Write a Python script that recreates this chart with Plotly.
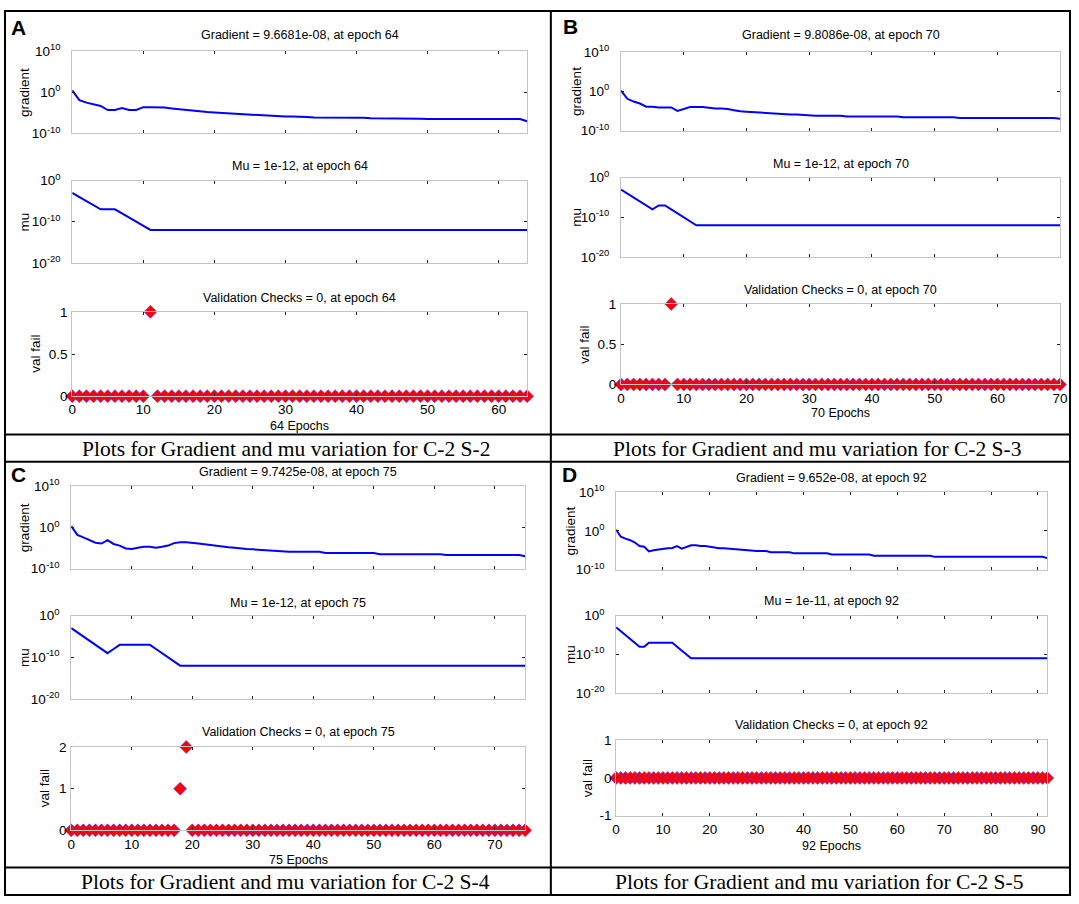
import plotly.graph_objects as go

W, H = 1079, 904

# ---- values; gradient and mu stored as log10 exponents ----

# A: C-2 S-2, 64 epochs
grad_a = [0.5, -1.9, -2.5, -2.9, -3.3, -4.3, -4.3, -3.8, -4.3, -4.3,
          -3.6, -3.6, -3.6, -3.7, -3.9, -4.1, -4.3, -4.4, -4.6, -4.8,
          -4.9, -5.0, -5.1, -5.3, -5.4, -5.5, -5.6, -5.6, -5.7, -5.8,
          -5.9, -5.9, -5.9, -6.0, -6.1, -6.1, -6.1, -6.1, -6.1, -6.1,
          -6.2, -6.2, -6.3, -6.3, -6.3, -6.3, -6.3, -6.3, -6.3, -6.4,
          -6.5, -6.5, -6.5, -6.5, -6.5, -6.5, -6.5, -6.5, -6.5, -6.5,
          -6.5, -6.5, -6.5, -6.5, -7.01]
mu_a = [-3, -4, -5, -6, -7, -7, -7, -8, -9, -10, -11] + [-12] * 54
val_a = [0] * 11 + [1] + [0] * 53

# B: C-2 S-3, 70 epochs
grad_b = [0.2, -1.9, -2.6, -3.1, -3.9, -3.9, -4.1, -4.1, -4.1, -5.0,
          -4.5, -4.0, -4.0, -4.0, -4.2, -4.4, -4.4, -4.5, -4.8, -5.1,
          -5.2, -5.3, -5.5, -5.6, -5.7, -5.8, -5.8, -5.9, -5.9, -6.0,
          -6.2, -6.2, -6.2, -6.2, -6.2, -6.2, -6.4, -6.4, -6.4, -6.4,
          -6.4, -6.4, -6.4, -6.4, -6.4, -6.6, -6.6, -6.6, -6.6, -6.6,
          -6.6, -6.6, -6.6, -6.6, -6.8, -6.8, -6.8, -6.8, -6.8, -6.8,
          -6.8, -6.8, -6.8, -6.8, -6.8, -6.8, -6.8, -6.8, -6.8, -6.8,
          -7.01]
mu_b = [-3, -4, -5, -6, -7, -8, -7, -7, -8, -9, -10, -11] + [-12] * 59
val_b = [0] * 8 + [1] + [0] * 62

# C: C-2 S-4, 75 epochs
grad_c = [0.35, -1.8, -2.4, -3.1, -3.7, -3.9, -3.1, -4.0, -4.4, -5.1,
          -5.2, -4.9, -4.7, -4.7, -4.9, -4.7, -4.4, -3.8, -3.6, -3.6,
          -3.7, -3.9, -4.1, -4.3, -4.5, -4.7, -4.8, -4.9, -5.1, -5.2,
          -5.3, -5.4, -5.5, -5.6, -5.8, -5.8, -5.9, -5.9, -5.9, -5.9,
          -5.9, -5.9, -6.2, -6.2, -6.2, -6.2, -6.2, -6.2, -6.2, -6.2,
          -6.2, -6.5, -6.5, -6.5, -6.5, -6.5, -6.5, -6.5, -6.5, -6.5,
          -6.5, -6.5, -6.7, -6.7, -6.7, -6.7, -6.7, -6.7, -6.7, -6.7,
          -6.7, -6.7, -6.7, -6.7, -6.7, -7.01]
mu_c = [-3, -4, -5, -6, -7, -8, -9, -8, -7, -7, -7, -7, -7, -7,
        -8, -9, -10, -11] + [-12] * 58
val_c = [0] * 18 + [1, 2] + [0] * 56

# D: C-2 S-5, 92 epochs
grad_d = [0.3, -1.5, -2.0, -2.4, -3.0, -3.9, -4.1, -5.3, -5.0, -4.8,
          -4.6, -4.5, -4.4, -3.9, -4.6, -4.1, -3.7, -3.7, -3.9, -3.9,
          -4.1, -4.3, -4.5, -4.5, -4.6, -4.7, -4.9, -5.0, -5.0, -5.2,
          -5.2, -5.2, -5.2, -5.5, -5.5, -5.5, -5.5, -5.5, -5.8, -5.8,
          -5.8, -5.8, -5.8, -5.8, -5.8, -5.8, -6.1, -6.1, -6.1, -6.1,
          -6.1, -6.1, -6.1, -6.1, -6.1, -6.4, -6.4, -6.4, -6.4, -6.4,
          -6.4, -6.4, -6.4, -6.4, -6.4, -6.4, -6.4, -6.4, -6.7, -6.7,
          -6.7, -6.7, -6.7, -6.7, -6.7, -6.7, -6.7, -6.7, -6.7, -6.7,
          -6.7, -6.7, -6.7, -6.7, -6.7, -6.7, -6.7, -6.7, -6.7, -6.7,
          -6.7, -6.7, -7.02]
mu_d = [-3, -4, -5, -6, -7, -8, -8, -7, -7, -7, -7, -7, -7,
        -8, -9, -10] + [-11] * 77
val_d = [0] * 93

panels = [
    dict(letter="A", grad=grad_a, mu=mu_a, val=val_a,
         gtitle="Gradient = 9.6681e-08, at epoch 64", mtitle="Mu = 1e-12, at epoch 64",
         vtitle="Validation Checks = 0, at epoch 64", xtitle="64 Epochs",
         caption="Plots for Gradient and mu variation for C-2 S-2",
         xpix=(69, 529), rows=[(42, 126), (174, 258), (308, 394)], tpix=(25, 159, 294),
         xtpix=424, ylx=(21, 21, 31), lpix=(15, 18), cpix=(285, 448),
         vrange=[0, 1], vticks=[0, 0.5, 1], vtext=["0", "0.5", "1"]),
    dict(letter="B", grad=grad_b, mu=mu_b, val=val_b,
         gtitle="Gradient = 9.8086e-08, at epoch 70", mtitle="Mu = 1e-12, at epoch 70",
         vtitle="Validation Checks = 0, at epoch 70", xtitle="70 Epochs",
         caption="Plots for Gradient and mu variation for C-2 S-3",
         xpix=(624, 1068), rows=[(43, 123), (171, 252), (300, 382)], tpix=(25, 157, 286),
         xtpix=411, ylx=(579, 579, 587), lpix=(573, 17), cpix=(822, 448),
         vrange=[0, 1], vticks=[0, 0.5, 1], vtext=["0", "0.5", "1"]),
    dict(letter="C", grad=grad_c, mu=mu_c, val=val_c,
         gtitle="Gradient = 9.7425e-08, at epoch 75", mtitle="Mu = 1e-12, at epoch 75",
         vtitle="Validation Checks = 0, at epoch 75", xtitle="75 Epochs",
         caption="Plots for Gradient and mu variation for C-2 S-4",
         xpix=(68, 527), rows=[(486, 570), (618, 703), (752, 837)], tpix=(471, 605, 737),
         xtpix=867, ylx=(21, 21, 41), lpix=(15, 474), cpix=(285, 890),
         vrange=[0, 2], vticks=[0, 1, 2], vtext=["0", "1", "2"]),
    dict(letter="D", grad=grad_d, mu=mu_d, val=val_d,
         gtitle="Gradient = 9.652e-08, at epoch 92", mtitle="Mu = 1e-11, at epoch 92",
         vtitle="Validation Checks = 0, at epoch 92", xtitle="92 Epochs",
         caption="Plots for Gradient and mu variation for C-2 S-5",
         xpix=(619, 1055), rows=[(492, 571), (618, 697), (745, 822)], tpix=(477, 603, 730),
         xtpix=853, ylx=(573, 573, 590), lpix=(572, 474), cpix=(824, 890),
         vrange=[-1, 1], vticks=[-1, 0, 1], vtext=["-1", "0", "1"]),
]

SANS = "Liberation Sans, Arial, sans-serif"
SERIF = "Liberation Serif, Times New Roman, serif"

fig = go.Figure()
layout = {}
annotations = []


def note(text, px, py, size=12.5, angle=0, family=SANS, bold=False):
    if bold:
        text = "<b>" + text + "</b>"
    annotations.append(dict(text=text, x=px / W, y=1 - py / H, xref="paper", yref="paper",
                            xanchor="center", yanchor="middle", showarrow=False,
                            textangle=angle, font=dict(family=family, size=size, color="black")))


tickfont = dict(family=SANS, size=13.5, color="black")

for p, pan in enumerate(panels):
    n = len(pan["grad"]) - 1
    epochs = list(range(n + 1))
    x0, x1 = pan["xpix"]
    series = [
        [10 ** v for v in pan["grad"]],
        [10 ** v for v in pan["mu"]],
        pan["val"],
    ]
    for r in range(3):
        k = 3 * p + r + 1
        s = "" if k == 1 else str(k)
        yt, yb = pan["rows"][r]
        layout["xaxis" + s] = dict(
            domain=[x0 / W, x1 / W], anchor="y" + s, range=[0, n], tick0=0, dtick=10,
            ticks="inside", ticklen=3, tickcolor="#222", linecolor="#c4c4c4", linewidth=1,
            showline=True, mirror="ticks", showgrid=False, zeroline=False,
            showticklabels=(r == 2), tickfont=tickfont, ticklabelstandoff=1)
        yax = dict(
            domain=[1 - yb / H, 1 - yt / H], anchor="x" + s,
            ticks="inside", ticklen=3, tickcolor="#222", linecolor="#c4c4c4", linewidth=1,
            showline=True, mirror="ticks", showgrid=False, zeroline=False,
            tickfont=tickfont)
        if r == 0:
            yax.update(type="log", range=[-10, 10], tickvals=[1e-10, 1, 1e10],
                       ticktext=["10<sup>-10</sup>", "10<sup>0</sup>", "10<sup>10</sup>"],
                       ticklabelstandoff=8)
        elif r == 1:
            yax.update(type="log", range=[-20, 0], tickvals=[1e-20, 1e-10, 1],
                       ticktext=["10<sup>-20</sup>", "10<sup>-10</sup>", "10<sup>0</sup>"],
                       ticklabelstandoff=8)
        else:
            yax.update(range=pan["vrange"], tickvals=pan["vticks"], ticktext=pan["vtext"],
                       ticklabelstandoff=1)
        layout["yaxis" + s] = yax

        if r < 2:
            fig.add_trace(go.Scatter(x=epochs, y=series[r], xaxis="x" + s, yaxis="y" + s,
                                     mode="lines", line=dict(color="#0000ff", width=2),
                                     hoverinfo="skip", showlegend=False))
        else:
            fig.add_trace(go.Scatter(x=epochs, y=series[r], xaxis="x" + s, yaxis="y" + s,
                                     mode="markers", cliponaxis=False,
                                     marker=dict(symbol="diamond", size=10, color="#ff0000",
                                                 line=dict(color="#5a3cff", width=0.6)),
                                     hoverinfo="skip", showlegend=False))

    cx = (x0 + x1) / 2
    note(pan["gtitle"], cx, pan["tpix"][0])
    note(pan["mtitle"], cx, pan["tpix"][1])
    note(pan["vtitle"], cx, pan["tpix"][2])
    note(pan["xtitle"], cx, pan["xtpix"])
    for r, lab in enumerate(["gradient", "mu", "val fail"]):
        yt, yb = pan["rows"][r]
        note(lab, pan["ylx"][r], (yt + yb) / 2, size=13.5, angle=-90)
    note(pan["letter"], pan["lpix"][0], pan["lpix"][1], size=21, bold=True)
    note(pan["caption"], pan["cpix"][0], pan["cpix"][1], size=21.5, family=SERIF)

# frame and cell dividers
line_style = dict(color="black", width=2)
shapes = [
    dict(type="rect", xref="paper", yref="paper", x0=1 / W, x1=(W - 1) / W, y0=1 / H, y1=1 - 1 / H,
         line=line_style),
    dict(type="line", xref="paper", yref="paper", x0=553 / W, x1=553 / W, y0=0, y1=1, line=line_style),
]
for py in [433, 461, 875]:
    shapes.append(dict(type="line", xref="paper", yref="paper", x0=0, x1=1,
                       y0=1 - py / H, y1=1 - py / H, line=line_style))

fig.update_layout(**layout)
fig.update_layout(width=W, height=H, margin=dict(l=0, r=0, t=0, b=0),
                  paper_bgcolor="white", plot_bgcolor="white",
                  annotations=annotations, shapes=shapes)

# drop the default 8px page margin so the figure fills the window exactly
fig.write_html("out.html", config={"displayModeBar": False},
               post_script="document.body.style.margin='0';document.body.style.overflow='hidden';")
